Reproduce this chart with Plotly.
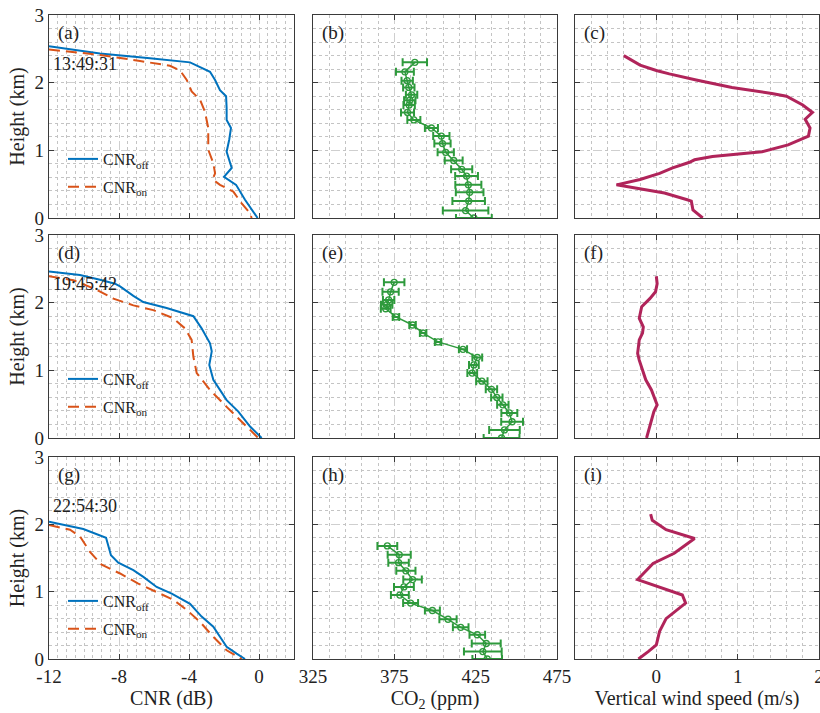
import plotly.graph_objects as go

# ---------------- data ----------------
# Panel (a) 13:49:31
a_off_h = [2.54, 2.43, 2.36, 2.30, 2.16, 2.04, 1.89, 1.80, 1.62, 1.45, 1.33, 1.16, 0.98, 0.74, 0.61, 0.49, 0.27, 0.10, 0.0]
a_off_cnr = [-12, -9.09, -6.23, -3.94, -2.80, -2.51, -2.23, -1.88, -1.85, -1.85, -1.60, -1.70, -1.85, -1.56, -2.0, -1.31, -0.80, -0.32, -0.08]
a_on_h = [2.49, 2.41, 2.32, 2.25, 2.18, 2.04, 1.87, 1.75, 1.57, 1.33, 1.01, 0.81, 0.66, 0.57, 0.49, 0.39, 0.22, 0.07, 0.0]
a_on_cnr = [-12, -9.09, -6.8, -5.09, -4.51, -4.13, -3.85, -3.37, -3.09, -2.9, -2.9, -2.61, -2.51, -2.65, -2.23, -1.47, -1.0, -0.51, -0.42]

# Panel (d) 19:45:42
d_off_h = [2.46, 2.41, 2.34, 2.28, 2.24, 2.10, 2.01, 1.92, 1.80, 1.62, 1.40, 1.28, 1.08, 0.86, 0.56, 0.39, 0.17, 0.0]
d_off_cnr = [-12, -10.23, -9.09, -8.23, -7.94, -7.18, -6.61, -5.28, -3.75, -3.28, -2.80, -2.70, -2.84, -2.61, -1.85, -1.18, -0.51, 0.15]
d_on_h = [2.39, 2.33, 2.19, 2.06, 1.96, 1.89, 1.77, 1.62, 1.45, 1.20, 0.96, 0.71, 0.46, 0.27, 0.12, 0.0]
d_on_cnr = [-12, -10.6, -9.27, -8.32, -7.18, -6.04, -4.9, -4.23, -3.85, -3.75, -3.56, -2.80, -1.85, -1.09, -0.51, -0.04]

# Panel (g) 22:54:30
g_off_h = [2.04, 1.93, 1.80, 1.54, 1.43, 1.32, 1.22, 1.07, 0.97, 0.82, 0.63, 0.48, 0.33, 0.18, 0.08, 0.0]
g_off_cnr = [-12, -10.04, -8.74, -8.46, -8.04, -7.18, -6.61, -5.85, -4.99, -3.94, -3.28, -2.61, -2.23, -1.85, -1.28, -0.8]
g_on_h = [1.99, 1.92, 1.82, 1.59, 1.40, 1.27, 1.12, 1.0, 0.88, 0.73, 0.55, 0.33, 0.13, 0.0]
g_on_cnr = [-12, -10.8, -10.23, -9.66, -8.99, -7.94, -6.9, -5.85, -4.9, -4.13, -3.37, -2.61, -1.85, -0.99]

# Panel (b) CO2
b_h = [2.30, 2.16, 2.03, 1.93, 1.82, 1.74, 1.67, 1.56, 1.45, 1.33, 1.21, 1.10, 0.97, 0.85, 0.72, 0.62, 0.49, 0.38, 0.25, 0.11, 0.0]
b_co2 = [387.6, 381.5, 382.9, 383.9, 385.6, 384.5, 384.1, 383.1, 387.0, 397.8, 403.9, 404.6, 406.6, 411.5, 416.4, 419.4, 420.5, 421.3, 420.7, 418.8, 423.9]
b_err = [7.5, 5.5, 3.5, 3.5, 3.5, 3.5, 3.5, 4.0, 4.0, 4.0, 5.0, 5.0, 5.0, 5.5, 6.5, 7.0, 8.0, 8.5, 10.0, 14.0, 11.0]

# Panel (e) CO2
e_h = [2.30, 2.16, 2.04, 1.97, 1.91, 1.79, 1.67, 1.55, 1.42, 1.31, 1.19, 1.08, 0.96, 0.84, 0.72, 0.60, 0.49, 0.37, 0.24, 0.12, 0.0]
e_co2 = [374.9, 372.7, 371.5, 370.3, 369.7, 376.0, 386.2, 392.7, 401.9, 417.2, 426.0, 423.9, 422.9, 428.8, 434.7, 438.0, 441.7, 445.7, 447.4, 442.7, 440.9]
e_err = [6.3, 5.0, 3.5, 3.5, 3.0, 2.0, 2.0, 2.0, 2.0, 2.5, 3.0, 3.0, 3.0, 3.5, 3.5, 3.5, 3.5, 4.9, 6.7, 9.4, 11.0]

# Panel (h) CO2
h_h = [1.68, 1.55, 1.43, 1.31, 1.18, 1.07, 0.95, 0.83, 0.72, 0.59, 0.47, 0.36, 0.23, 0.11, 0.0]
h_co2 = [370.7, 378.0, 377.6, 382.1, 386.2, 380.9, 378.4, 385.0, 398.4, 408.0, 415.8, 426.0, 431.5, 429.4, 432.1]
h_err = [6.1, 7.1, 6.3, 5.9, 5.7, 6.1, 5.5, 4.6, 4.6, 5.3, 4.8, 4.8, 8.9, 11.6, 9.1]

# Panel (c) vertical wind
c_h = [2.40, 2.26, 2.18, 2.13, 2.04, 1.93, 1.84, 1.80, 1.67, 1.56, 1.46, 1.33, 1.21, 1.08, 0.98, 0.95, 0.91, 0.86, 0.82, 0.74, 0.66, 0.57, 0.49, 0.44, 0.37, 0.27, 0.25, 0.12, 0.0]
c_w = [-0.40, -0.20, 0.0, 0.16, 0.49, 0.93, 1.42, 1.60, 1.80, 1.92, 1.83, 1.89, 1.87, 1.62, 1.30, 1.01, 0.69, 0.47, 0.40, 0.20, 0.04, -0.20, -0.49, -0.24, 0.10, 0.38, 0.43, 0.45, 0.57]

# Panel (f) vertical wind
f_h = [2.39, 2.28, 2.16, 2.06, 1.94, 1.77, 1.64, 1.55, 1.45, 1.25, 1.15, 1.00, 0.86, 0.71, 0.49, 0.39, 0.26, 0.12, 0.0]
f_w = [0.0, 0.01, -0.01, -0.08, -0.18, -0.21, -0.16, -0.17, -0.21, -0.23, -0.21, -0.17, -0.13, -0.06, 0.01, -0.03, -0.06, -0.09, -0.12]

# Panel (i) vertical wind
i_h = [2.15, 2.06, 1.92, 1.79, 1.57, 1.42, 1.18, 0.95, 0.83, 0.60, 0.41, 0.21, 0.11, 0.0]
i_w = [-0.07, -0.05, 0.12, 0.47, 0.22, -0.04, -0.23, 0.32, 0.36, 0.12, 0.04, 0.0, -0.10, -0.22]

panel_labels = ["(a)", "(b)", "(c)", "(d)", "(e)", "(f)", "(g)", "(h)", "(i)"]
times = ["13:49:31", "19:45:42", "22:54:30"]
cnr_ticks = [-12, -8, -4, 0]
cnr_ticktext = ["-12", "-8", "-4", "0"]
co2_ticks = [325, 375, 425, 475]
wind_ticks = [-1, 0, 1, 2]
wind_ticktext = ["", "0", "1", "2"]
height_ticks = [0, 1, 2, 3]

# ---------------- styling ----------------
FONT = "Liberation Serif, Times New Roman, serif"
BLUE = "#0072BD"
ORANGE = "#D95319"
GREEN = "#2E9A3C"
WIND = "#B0245A"
FRAME = "#3a3a3a"
W, H = 820, 713

col_px = [(49, 294), (313, 557), (575, 819)]
row_px = [(15, 218), (235, 438), (457, 659)]

fig = go.Figure()

cnr_data = [(a_off_cnr, a_off_h, a_on_cnr, a_on_h),
            (d_off_cnr, d_off_h, d_on_cnr, d_on_h),
            (g_off_cnr, g_off_h, g_on_cnr, g_on_h)]
co2_data = [(b_co2, b_h, b_err), (e_co2, e_h, e_err), (h_co2, h_h, h_err)]
wind_data = [(c_w, c_h), (f_w, f_h), (i_w, i_h)]

legend_names = ["legend", "legend2", "legend3"]

layout = {}
annotations = []
for r in range(3):
    for c in range(3):
        idx = r * 3 + c + 1
        xa = "x" if idx == 1 else f"x{idx}"
        ya = "y" if idx == 1 else f"y{idx}"
        xkey = "xaxis" if idx == 1 else f"xaxis{idx}"
        ykey = "yaxis" if idx == 1 else f"yaxis{idx}"
        x0, x1 = col_px[c]
        y0, y1 = row_px[r]
        common = dict(showline=True, linecolor=FRAME, linewidth=1.3, mirror="ticks",
                      ticks="inside", ticklen=5, tickwidth=1, tickcolor=FRAME,
                      showgrid=True, gridcolor="#cfcfcf", griddash="dash", gridwidth=1,
                      zeroline=False, automargin=False, ticklabeloverflow="allow",
                      tickfont=dict(family=FONT, size=19, color="#222"))
        if c == 0:
            xax = dict(range=[-12, 2], tickvals=cnr_ticks, ticktext=cnr_ticktext,
                       minor=dict(dtick=0.5, tick0=-12, showgrid=True, gridcolor="#c4c4c4", griddash="dot", gridwidth=1))
            xtitle = "CNR (dB)"
        elif c == 1:
            xax = dict(range=[325, 475], tickvals=co2_ticks,
                       minor=dict(dtick=10, tick0=325, showgrid=True, gridcolor="#c4c4c4", griddash="dot", gridwidth=1))
            xtitle = "CO<sub>2</sub> (ppm)"
        else:
            xax = dict(range=[-1, 2], tickvals=wind_ticks, ticktext=wind_ticktext,
                       minor=dict(dtick=0.2, tick0=-1, showgrid=True, gridcolor="#c4c4c4", griddash="dot", gridwidth=1))
            xtitle = "Vertical wind speed (m/s)"
        xax.update(common)
        xax.update(domain=[x0 / W, x1 / W], anchor=ya, showticklabels=(r == 2))
        if r == 2:
            xax["title"] = dict(text=xtitle, font=dict(family=FONT, size=20, color="#222"), standoff=1)
        yax = dict(range=[0, 3], tickvals=height_ticks,
                   minor=dict(dtick=0.2, tick0=0, showgrid=True, gridcolor="#c4c4c4", griddash="dot", gridwidth=1))
        yax.update(common)
        yax.update(domain=[1 - y1 / H, 1 - y0 / H], anchor=xa, showticklabels=(c == 0))
        if c == 0:
            yax["title"] = dict(text="Height (km)", font=dict(family=FONT, size=20, color="#222"), standoff=4)
        layout[xkey] = xax
        layout[ykey] = yax

        # panel label
        annotations.append(dict(text=panel_labels[idx - 1], xref=f"{xa} domain", yref=f"{ya} domain",
                                x=0.028, y=0.91, xanchor="left", yanchor="middle", showarrow=False,
                                font=dict(family=FONT, size=19, color="#222")))

        if c == 0:
            off_x, off_y, on_x, on_y = cnr_data[r]
            lg = legend_names[r]
            fig.add_trace(go.Scatter(x=off_x, y=off_y, mode="lines", xaxis=xa, yaxis=ya,
                                     line=dict(color=BLUE, width=2), name="CNR<sub>off</sub>",
                                     legend=lg, legendgroup=f"off{r}", showlegend=True))
            fig.add_trace(go.Scatter(x=on_x, y=on_y, mode="lines", xaxis=xa, yaxis=ya,
                                     line=dict(color=ORANGE, width=2, dash="11px,6px"), name="CNR<sub>on</sub>",
                                     legend=lg, legendgroup=f"on{r}", showlegend=True))
            annotations.append(dict(text=times[r], xref=f"{xa} domain", yref=f"{ya} domain",
                                    x=0.01, y=0.757, xanchor="left", yanchor="middle", showarrow=False,
                                    font=dict(family=FONT, size=18, color="#222")))
            leg_top = row_px[r][0] + 127
            layout[lg] = dict(x=63 / W, y=1 - leg_top / H, xanchor="left", yanchor="top",
                              bgcolor="rgba(0,0,0,0)", borderwidth=0, tracegroupgap=4,
                              font=dict(family=FONT, size=16, color="#222"),
                              traceorder="grouped", itemwidth=30)
        elif c == 1:
            cx, cy, ce = co2_data[r]
            fig.add_trace(go.Scatter(x=cx, y=cy, mode="lines+markers", xaxis=xa, yaxis=ya,
                                     line=dict(color=GREEN, width=1.5),
                                     marker=dict(symbol="circle-open", size=6, color=GREEN, line=dict(width=1.3)),
                                     error_x=dict(type="data", array=ce, visible=True, color=GREEN,
                                                  thickness=2, width=4),
                                     showlegend=False))
        else:
            wx, wy = wind_data[r]
            fig.add_trace(go.Scatter(x=wx, y=wy, mode="lines", xaxis=xa, yaxis=ya,
                                     line=dict(color=WIND, width=3), showlegend=False))

layout["annotations"] = annotations
fig.update_layout(**layout)
fig.update_layout(width=W, height=H, margin=dict(l=0, r=0, t=0, b=0, autoexpand=False),
                  paper_bgcolor="white", plot_bgcolor="white",
                  font=dict(family=FONT, color="#222"))

fig.write_html("out.html")
